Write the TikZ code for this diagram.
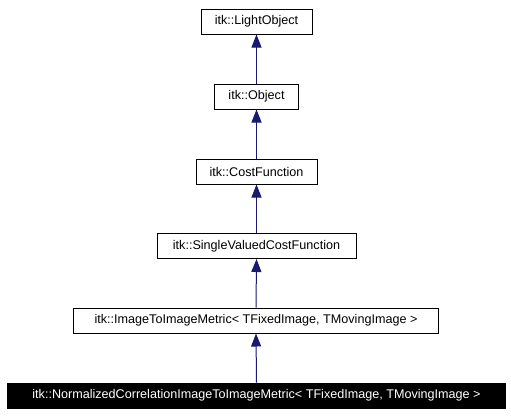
\documentclass[tikz,border=0pt]{standalone}
\usepackage{fontspec}
\setmainfont{Liberation Sans}
\usetikzlibrary{arrows.meta}
\definecolor{edgeblue}{HTML}{191970}
\begin{document}
\begin{tikzpicture}[x=1bp,y=-1bp,
  box/.style={draw=black, line width=1bp, fill=white, minimum height=25bp, inner sep=0pt, font=\fontsize{12.6bp}{14bp}\selectfont},
  hl/.style={box, fill=black, text=white},
  inh/.style={draw=edgeblue, line width=1bp, -{Triangle[length=13bp,width=10bp]}}]
\useasboundingbox (0,0) rectangle (511,415);
\node[box, minimum width=111bp] (n1) at (256.5,21.5) {itk::LightObject};
\node[box, minimum width=84bp] (n2) at (256.5,96.5) {itk::Object};
\node[box, minimum width=121bp] (n3) at (256.5,171.5) {itk::CostFunction};
\node[box, minimum width=199bp] (n4) at (256.5,246) {itk::SingleValuedCostFunction};
\node[box, minimum width=365bp] (n5) at (256,320.5) {itk::ImageToImageMetric< TFixedImage, TMovingImage >};
\node[hl, minimum width=497bp] (n6) at (256.5,395.5) {itk::NormalizedCorrelationImageToImageMetric< TFixedImage, TMovingImage >};
\draw[inh] (n2.north) -- (n1.south);
\draw[inh] (n3.north) -- (n2.south);
\draw[inh] (n4.north) -- (n3.south);
\draw[inh] (n5.north) -- (n4.south);
\draw[inh] (n6.north) -- (n5.south);
\end{tikzpicture}
\end{document}
